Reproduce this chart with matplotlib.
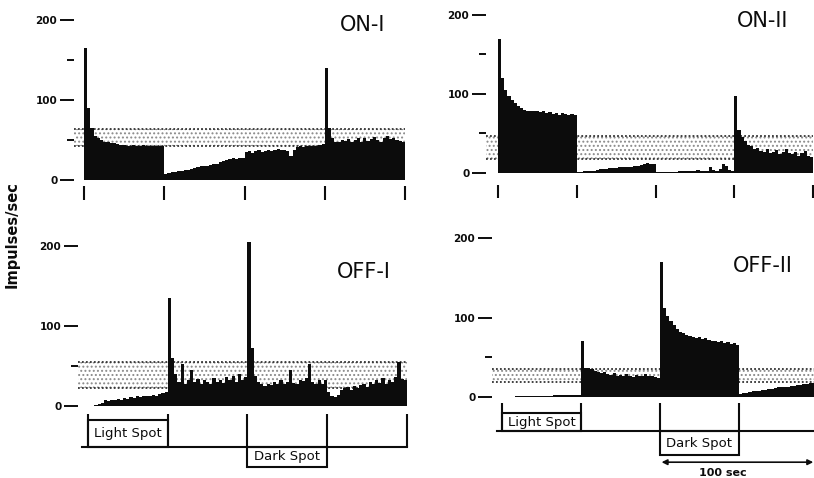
import matplotlib
matplotlib.use("Agg")
import matplotlib.pyplot as plt
import numpy as np
from matplotlib.patches import Rectangle

# ---------------- data (impulses/sec, 2-s bins, 200 s per record) ----------------
bin_edges_sec = np.arange(0, 202, 2)
stim_times = [0, 50, 100, 150, 200]
light_spot = (0, 50)
dark_spot = (100, 150)

on1_vals = [165, 90, 65, 55, 52, 50, 48, 47, 46, 46, 45, 44, 44, 43, 43, 44, 43, 43, 44, 43, 43, 42, 42, 43, 42,
            8, 9, 10, 10, 11, 11, 12, 13, 14, 15, 16, 17, 17, 18, 19, 20, 20, 22, 24, 25, 26, 27, 26, 28, 27,
            35, 36, 34, 36, 37, 35, 36, 38, 36, 37, 39, 37, 38, 36, 30, 37, 41, 42, 41, 42, 43, 42, 43, 44, 45,
            140, 65, 52, 48, 47, 50, 49, 51, 48, 50, 52, 47, 53, 49, 51, 54, 50, 48, 52, 55, 51, 53, 50, 49, 47]

on2_vals = [170, 120, 105, 98, 92, 88, 85, 82, 80, 79, 78, 79, 78, 77, 78, 76, 77, 75, 76, 74, 76, 75, 74, 75, 74,
            1, 1, 2, 2, 3, 3, 4, 5, 5, 5, 6, 6, 6, 7, 7, 7, 8, 8, 9, 9, 10, 12, 13, 12, 11,
            1, 1, 1, 1, 1, 1, 1, 2, 2, 2, 3, 2, 3, 4, 3, 2, 3, 8, 4, 3, 5, 12, 9, 4, 3,
            98, 55, 45, 40, 36, 34, 30, 32, 28, 27, 30, 25, 26, 29, 24, 27, 30, 25, 24, 26, 22, 25, 28, 21, 20]

off1_vals = [0, 0, 1, 2, 4, 7, 6, 8, 7, 9, 8, 10, 9, 11, 10, 12, 11, 13, 12, 13, 14, 13, 15, 16, 17,
             135, 60, 40, 30, 52, 28, 32, 45, 30, 34, 28, 33, 30, 27, 35, 30, 33, 29, 36, 32, 38, 30, 40, 33, 36,
             205, 72, 38, 30, 27, 25, 28, 26, 30, 27, 32, 28, 30, 45, 29, 27, 33, 31, 35, 52, 30, 28, 32, 27, 33,
             18, 12, 11, 14, 20, 22, 24, 20, 25, 23, 26, 28, 24, 30, 27, 33, 29, 35, 28, 32, 30, 36, 55, 34, 32]

off2_vals = [0, 0, 0, 0, 1, 1, 1, 1, 1, 1, 1, 1, 1, 1, 1, 1, 2, 2, 2, 2, 2, 2, 3, 3, 3,
             70, 36, 37, 35, 33, 32, 30, 31, 29, 28, 30, 27, 28, 26, 29, 27, 25, 28, 26, 27, 29, 26, 27, 25, 24,
             170, 112, 102, 95, 90, 86, 82, 80, 78, 77, 75, 74, 76, 73, 74, 72, 70, 71, 69, 70, 68, 69, 67, 68, 66,
             4, 5, 5, 6, 7, 7, 8, 9, 9, 10, 10, 11, 12, 12, 13, 13, 14, 14, 15, 15, 16, 16, 17, 17, 18]

# spontaneous-activity range (stippled band): low, high
on1_band = [42, 64]
on2_band = [18, 47]
off1_band = [22, 55]
off2_band = [19, 35]

titles = ["ON-I", "ON-II", "OFF-I", "OFF-II"]
ytick_vals = [0, 100, 200]
ytick_labels = ["0", "100", "200"]

# ---------------- layout ----------------
plt.rcParams["hatch.linewidth"] = 0.9
W, H = 814, 478
fig = plt.figure(figsize=(W / 100, H / 100), dpi=100)
fig.patch.set_facecolor("white")
INK = "#0c0c0c"


def make_panel(x0, x1, y0, s, left, right, top, bottom, minor):
    ax = fig.add_axes([left / W, 1 - bottom / H, (right - left) / W, (bottom - top) / H])
    span = x1 - x0
    ax.set_xlim((left - x0) / span * 200, (right - x0) / span * 200)
    ax.set_ylim((y0 - bottom) / s, (y0 - top) / s)
    for sp in ax.spines.values():
        sp.set_visible(False)
    ax.xaxis.set_visible(False)
    ax.patch.set_alpha(0)
    ax.set_yticks(ytick_vals)
    ax.set_yticklabels(ytick_labels, fontweight="bold", fontsize=7.5)
    ax.set_yticks(minor, minor=True)
    ax.tick_params(axis="y", which="major", direction="out", length=10, width=1.4,
                   pad=2, colors=INK)
    ax.tick_params(axis="y", which="minor", direction="out", length=5, width=1.4, colors=INK)
    return ax


def draw_hist(ax, vals, band):
    xl = ax.get_xlim()[0]
    lo, hi = band
    ax.fill_between([xl, 200], lo, hi, facecolor="none", edgecolor="#8a8a8a",
                    hatch="....", linewidth=0, zorder=1)
    for yv in (lo, hi):
        ax.plot([xl, 200], [yv, yv], ls=(0, (1, 1.2)), color="#333333", lw=1.3, zorder=2)
    ax.stairs(vals, bin_edges_sec, fill=True, color=INK, zorder=3)


def draw_on_markers(ax, lo, hi):
    ax.vlines(stim_times, lo, hi, color=INK, lw=1.5, clip_on=False)


def draw_stim_bar(ax, base, light_top, dark_bot, mark_top, base_left):
    ax.plot([base_left, 200], [base, base], color=INK, lw=1.5, clip_on=False)
    ax.add_patch(Rectangle((light_spot[0], base), light_spot[1] - light_spot[0], light_top - base,
                           fill=False, lw=1.5, edgecolor=INK, clip_on=False))
    ax.add_patch(Rectangle((dark_spot[0], dark_bot), dark_spot[1] - dark_spot[0], base - dark_bot,
                           fill=False, lw=1.5, edgecolor=INK, clip_on=False))
    ax.vlines(stim_times, base, mark_top, color=INK, lw=1.5, clip_on=False)
    ax.text(sum(light_spot) / 2, (base + light_top) / 2, "Light Spot", ha="center", va="center",
            fontsize=9.5, color=INK)
    ax.text(sum(dark_spot) / 2, (base + dark_bot) / 2, "Dark Spot", ha="center", va="center",
            fontsize=9.5, color=INK)


# ON-I
ax1 = make_panel(84, 405, 180, 0.80, 74, 412, 5, 212, [50, 150])
draw_hist(ax1, on1_vals, on1_band)
draw_on_markers(ax1, -8, -25)

# ON-II
ax2 = make_panel(498, 813, 173, 0.79, 486, 814, 5, 212, [50, 150])
draw_hist(ax2, on2_vals, on2_band)
draw_on_markers(ax2, -15, -32)

# OFF-I
ax3 = make_panel(88, 407, 406, 0.80, 78, 412, 228, 478, [50])
draw_hist(ax3, off1_vals, off1_band)
draw_stim_bar(ax3, -51, -17.5, -76, -10, -4)

# OFF-II
ax4 = make_panel(502, 818, 397, 0.795, 492, 814, 228, 478, [50])
draw_hist(ax4, off2_vals, off2_band)
draw_stim_bar(ax4, -43, -20, -73, -8, -3)
ax4.annotate("", xy=(dark_spot[0] + 1, -82), xytext=(197, -82),
             arrowprops=dict(arrowstyle="<|-|>", lw=1.2, color=INK, mutation_scale=8,
                             shrinkA=0, shrinkB=0), annotation_clip=False)
ax4.text(140, -95, "100 sec", ha="center", va="center", fontsize=8, fontweight="bold", color=INK)

# panel titles
title_pos = [(363, 25), (763, 21), (364, 272), (763, 266)]
for t, (px, py) in zip(titles, title_pos):
    fig.text(px / W, 1 - py / H, t, ha="center", va="center", fontsize=15, color=INK)

fig.text(12 / W, 1 - 235 / H, "Impulses/sec", rotation=90, ha="center", va="center",
         fontsize=10.5, fontweight="bold", color=INK)

fig.savefig("out.png", dpi=100, facecolor="white")
